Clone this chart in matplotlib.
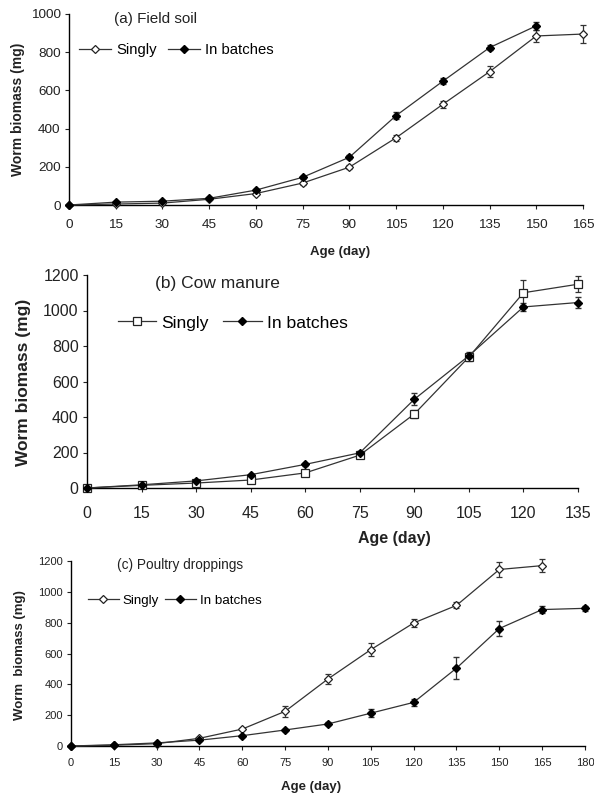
import matplotlib
matplotlib.use("Agg")
import matplotlib.pyplot as plt

plt.rcParams['font.family'] = ['Liberation Sans', 'DejaVu Sans']

# Panel (a) Field soil
age_a = [0, 15, 30, 45, 60, 75, 90, 105, 120, 135, 150, 165]
singly_a = [0, 5, 10, 30, 60, 115, 198, 352, 527, 698, 885, 895]
singly_a_err = [0, 3, 4, 5, 6, 8, 10, 15, 20, 28, 30, 45]
age_a_b = [0, 15, 30, 45, 60, 75, 90, 105, 120, 135, 150]
batch_a = [0, 15, 20, 35, 78, 145, 250, 468, 648, 824, 938]
batch_a_err = [0, 4, 4, 5, 6, 8, 10, 18, 15, 15, 20]

# Panel (b) Cow manure
age_b = [0, 15, 30, 45, 60, 75, 90, 105, 120, 135]
singly_b = [0, 15, 28, 45, 85, 185, 417, 738, 1100, 1148]
singly_b_err = [0, 3, 4, 5, 8, 15, 25, 20, 70, 45]
batch_b = [0, 18, 40, 75, 133, 198, 500, 745, 1020, 1045]
batch_b_err = [0, 3, 5, 6, 8, 12, 35, 20, 20, 30]

# Panel (c) Poultry droppings
age_c_s = [0, 15, 30, 45, 60, 75, 90, 105, 120, 135, 150, 165]
singly_c = [0, 5, 15, 50, 110, 225, 435, 625, 798, 912, 1145, 1170]
singly_c_err = [0, 3, 4, 5, 8, 35, 30, 40, 25, 20, 50, 40]
age_c_b = [0, 15, 30, 45, 60, 75, 90, 105, 120, 135, 150, 165, 180]
batch_c = [0, 8, 20, 38, 67, 104, 143, 213, 283, 505, 762, 885, 893]
batch_c_err = [0, 3, 4, 5, 6, 8, 10, 25, 25, 70, 50, 25, 15]

W, H = 594, 800
fig = plt.figure(figsize=(W / 100, H / 100), dpi=100)
INK = '#222222'

def rect(l, r, t, b):
    return [l / W, 1 - b / H, (r - l) / W, (b - t) / H]

def style(ax, fs, pad, xlim, ylim, xt, yt):
    for s in ['top', 'right']:
        ax.spines[s].set_visible(False)
    ax.spines['left'].set_linewidth(1.0)
    ax.spines['bottom'].set_linewidth(1.0)
    ax.set_xlim(*xlim)
    ax.set_ylim(*ylim)
    ax.set_xticks(xt)
    ax.set_yticks(yt)
    ax.tick_params(direction='out', length=3, width=0.8, labelsize=fs, colors=INK)
    ax.tick_params(axis='x', pad=pad)
    ax.tick_params(axis='y', pad=3)

def plot_pair(ax, xs, ys, es, xb, yb, eb, smark, ms, bms):
    ax.errorbar(xs, ys, yerr=es, color='#333333', lw=0.9, marker=smark, ms=ms,
                mfc='white', mec=INK, mew=0.9, capsize=2.5, elinewidth=0.9,
                label='Singly', clip_on=False, zorder=3)
    ax.errorbar(xb, yb, yerr=eb, color='#333333', lw=0.9, marker='D', ms=bms,
                mfc='black', mec='black', capsize=2.5, elinewidth=0.9,
                label='In batches', clip_on=False, zorder=3)

def finish(ax, title, tfs, tx, ty, lfs, lx, ly, hl, cs, xl, xlfs, xlx, xly, yl, ylfs, ylx, yly):
    ax.text(tx, ty, title, transform=ax.transAxes, fontsize=tfs, va='center', ha='left', color=INK)
    h, l = ax.get_legend_handles_labels()
    h = [x[0] for x in h]
    ax.legend(h, l, loc='center left', bbox_to_anchor=(lx, ly), ncol=2, frameon=False,
              fontsize=lfs, handlelength=hl, columnspacing=cs, handletextpad=0.3,
              borderpad=0, borderaxespad=0)
    ax.set_xlabel(xl, fontsize=xlfs, fontweight='bold', color=INK)
    ax.xaxis.label.set_va('center')
    ax.xaxis.set_label_coords(xlx, xly)
    ax.set_ylabel(yl, fontsize=ylfs, fontweight='bold', color=INK)
    ax.yaxis.label.set_va('center')
    ax.yaxis.set_label_coords(ylx, yly)

# (a)
ax1 = fig.add_axes(rect(69, 583, 14, 205))
plot_pair(ax1, age_a, singly_a, singly_a_err, age_a_b, batch_a, batch_a_err, 'D', 3.6, 3.6)
style(ax1, 9.7, 7, (0, 165), (0, 1000), range(0, 166, 15), range(0, 1001, 200))
finish(ax1, '(a) Field soil', 11, 0.0875, 0.974, 10.7, 0.019, 0.812, 2.2, 0.74,
       'Age (day)', 9.5, 0.527, -0.246, 'Worm biomass (mg)', 10, -0.099, 0.503)

# (b)
ax2 = fig.add_axes(rect(87, 578, 275, 488))
plot_pair(ax2, age_b, singly_b, singly_b_err, age_b, batch_b, batch_b_err, 's', 5.5, 4.2)
style(ax2, 11.5, 9.7, (0, 135), (0, 1200), range(0, 136, 15), range(0, 1201, 200))
finish(ax2, '(b) Cow manure', 12.5, 0.138, 0.962, 12.6, 0.063, 0.775, 2.2, 0.8,
       'Age (day)', 11.5, 0.627, -0.235, 'Worm biomass (mg)', 12.5, -0.129, 0.498)

# (c)
ax3 = fig.add_axes(rect(71, 585, 561, 746))
plot_pair(ax3, age_c_s, singly_c, singly_c_err, age_c_b, batch_c, batch_c_err, 'D', 3.6, 3.6)
style(ax3, 8, 6, (0, 180), (0, 1200), range(0, 181, 15), range(0, 1201, 200))
finish(ax3, '(c) Poultry droppings', 9.8, 0.0895, 0.978, 9.6, 0.033, 0.784, 2.3, 0.45,
       'Age (day)', 9.5, 0.467, -0.222, 'Worm  biomass (mg)', 9.5, -0.099, 0.49)

fig.savefig('out.png', dpi=100)
